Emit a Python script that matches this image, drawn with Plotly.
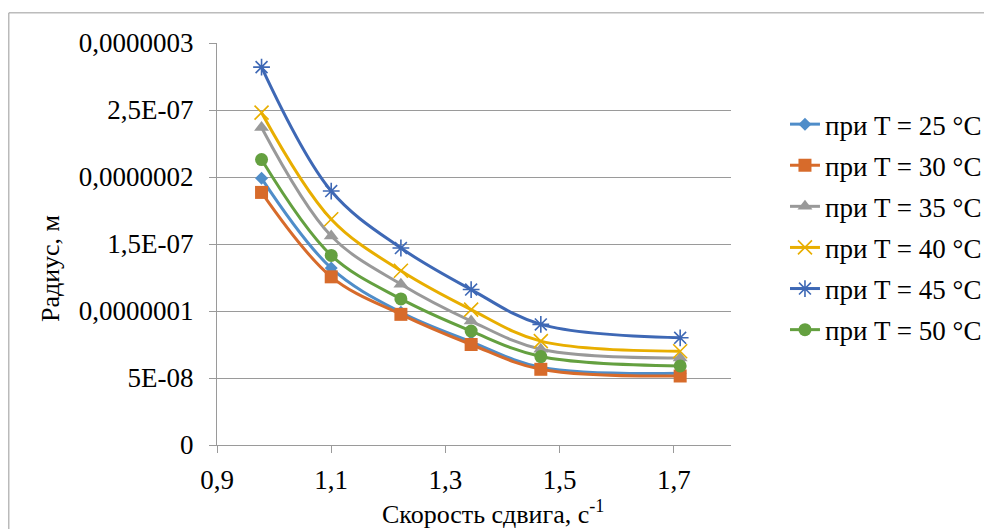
import plotly.graph_objects as go

# Shear rate, 1/s
shear_rate = [0.978, 1.100, 1.222, 1.345, 1.467, 1.711]

# Particle radius, m, at each temperature
radius_25 = [1.99e-7, 1.32e-7, 9.9e-8, 7.7e-8, 5.8e-8, 5.35e-8]
radius_30 = [1.885e-7, 1.255e-7, 9.75e-8, 7.5e-8, 5.65e-8, 5.15e-8]
radius_35 = [2.37e-7, 1.56e-7, 1.2e-7, 9.25e-8, 7.15e-8, 6.5e-8]
radius_40 = [2.48e-7, 1.685e-7, 1.3e-7, 1.01e-7, 7.75e-8, 7.0e-8]
radius_45 = [2.82e-7, 1.895e-7, 1.47e-7, 1.16e-7, 9.0e-8, 8.0e-8]
radius_50 = [2.13e-7, 1.415e-7, 1.09e-7, 8.5e-8, 6.6e-8, 5.9e-8]

series_names = ["при T = 25 °C", "при T = 30 °C", "при T = 35 °C",
                "при T = 40 °C", "при T = 45 °C", "при T = 50 °C"]

y_tick_vals = [0, 5e-8, 1e-7, 1.5e-7, 2e-7, 2.5e-7, 3e-7]
y_tick_text = ["0", "5E-08", "0,0000001", "1,5E-07", "0,0000002", "2,5E-07", "0,0000003"]
x_tick_vals = [0.9, 1.1, 1.3, 1.5, 1.7]
x_tick_text = ["0,9", "1,1", "1,3", "1,5", "1,7"]

x_title = "Скорость сдвига, с<sup>-1</sup>"
y_title = "Радиус, м"

FONT = "'Liberation Serif', 'Times New Roman', serif"
FS = 27
FS_TITLE = 26
GRID = "#9a9a9a"

styles = [
    dict(color="#4f8dc9", symbol="diamond", size=10, open=False),
    dict(color="#d76b2b", symbol="square", size=13, open=False),
    dict(color="#999999", symbol="triangle-up", size=13, open=False),
    dict(color="#e8ae00", symbol="x-thin-open", size=14, open=True),
    dict(color="#3e68b5", symbol="asterisk-open", size=14, open=True),
    dict(color="#64a040", symbol="circle", size=13, open=False),
]
values = [radius_25, radius_30, radius_35, radius_40, radius_45, radius_50]

fig = go.Figure()
for i, (name, ys, st) in enumerate(zip(series_names, values, styles)):
    marker = dict(symbol=st["symbol"], size=st["size"], color=st["color"])
    if st["open"]:
        marker["line"] = dict(color=st["color"], width=1.6)
    else:
        marker["line"] = dict(width=0)
    fig.add_trace(go.Scatter(
        x=shear_rate, y=ys, name=name, mode="lines+markers",
        line=dict(color=st["color"], width=3, shape="spline", smoothing=1.0),
        marker=marker, legendgroup=f"g{i}",
    ))

fig.update_layout(
    width=984, height=529,
    margin=dict(l=217, r=253, t=43, b=84, autoexpand=False),
    paper_bgcolor="white", plot_bgcolor="white",
    font=dict(family=FONT, size=FS, color="black"),
    showlegend=True,
    legend=dict(
        x=1.105, xanchor="left", y=0.858, yanchor="top",
        font=dict(family=FONT, size=FS, color="black"),
        traceorder="grouped", tracegroupgap=3,
        bgcolor="rgba(0,0,0,0)",
    ),
    xaxis=dict(
        range=[0.9, 1.8], tickvals=x_tick_vals, ticktext=x_tick_text,
        showgrid=False, zeroline=False, showline=True, linecolor=GRID, linewidth=1,
        ticks="outside", ticklen=7, tickcolor=GRID, ticklabelstandoff=4,
        tickfont=dict(family=FONT, size=FS),
    ),
    yaxis=dict(
        range=[0, 3e-7], tickvals=y_tick_vals, ticktext=y_tick_text,
        showgrid=True, gridcolor=GRID, gridwidth=1, zeroline=False,
        showline=True, linecolor=GRID, linewidth=1,
        ticks="outside", ticklen=7, tickcolor=GRID, ticklabelstandoff=10,
        tickfont=dict(family=FONT, size=FS),
    ),
)

# Axis titles
fig.add_annotation(text=x_title, xref="paper", yref="paper", x=0.537, y=-0.168,
                   xanchor="center", yanchor="middle", showarrow=False,
                   font=dict(family=FONT, size=FS_TITLE, color="black"))
fig.add_annotation(text=y_title, xref="paper", yref="paper", x=-0.325, y=0.44,
                   xanchor="center", yanchor="middle", showarrow=False, textangle=-90,
                   font=dict(family=FONT, size=FS_TITLE, color="black"))

# Chart frame (top and left edges)
fig.add_shape(type="line", xref="paper", yref="paper",
              x0=-0.405, x1=1.6, y0=1.075, y1=1.075,
              line=dict(color="#999999", width=1))
fig.add_shape(type="line", xref="paper", yref="paper",
              x0=-0.405, x1=-0.405, y0=1.075, y1=-0.3,
              line=dict(color="#999999", width=1))

fig.write_html("out.html")
